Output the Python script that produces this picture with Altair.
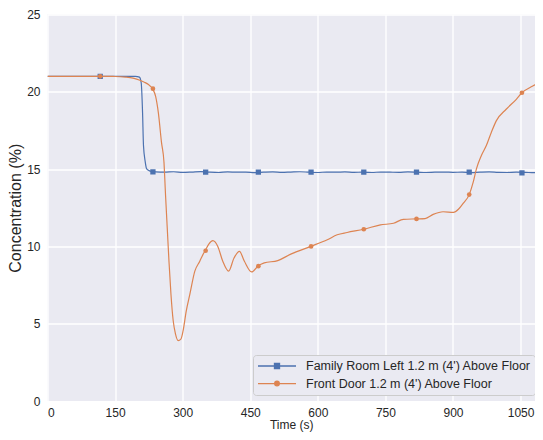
import altair as alt
import pandas as pd

series_names = ["Family Room Left 1.2 m (4') Above Floor", "Front Door 1.2 m (4') Above Floor"]
series_colors = ["#4C72B0", "#DD8452"]

blue_t = [0, 100, 150, 195, 204, 208, 211, 213, 217, 219.5, 224, 230,
          240, 260, 280, 300, 320, 340, 360, 380, 400, 420, 440, 460, 480, 500,
          520, 540, 560, 580, 600, 620, 640, 660, 680, 700, 720, 740, 760, 780,
          800, 820, 840, 860, 880, 900, 920, 940, 960, 980, 1000, 1020, 1040,
          1060, 1080, 1091]
blue_v = [21.0, 21.0, 21.0, 21.0, 20.95, 20.58, 18.65, 16.54, 15.45, 15.06, 14.92, 14.85,
          14.82, 14.80, 14.83, 14.79, 14.81, 14.84, 14.80, 14.78, 14.82, 14.80,
          14.81, 14.77, 14.80, 14.82, 14.79, 14.81, 14.83, 14.80, 14.78, 14.81,
          14.80, 14.82, 14.79, 14.80, 14.78, 14.81, 14.80, 14.79, 14.82, 14.80,
          14.78, 14.80, 14.81, 14.79, 14.80, 14.77, 14.80, 14.82, 14.79, 14.78,
          14.80, 14.79, 14.77, 14.79]

orange_t = [0, 110, 150, 173, 190, 205, 215, 224, 233, 240,
            246, 253, 258.5, 262, 265.8, 269.6, 274, 279, 284, 290,
            296, 301, 308, 316, 327, 338, 345, 350, 358, 367,
            378, 389, 402, 414, 426, 437, 453, 467, 481, 511,
            540, 584, 621, 643, 665, 702, 739, 768, 790, 818,
            838, 856, 878, 901, 912, 923, 936, 945, 952, 963,
            974, 985, 996, 1018, 1040, 1053, 1077, 1091]
orange_v = [21.0, 21.0, 20.99, 20.95, 20.88, 20.75, 20.62, 20.47, 20.2, 19.7,
            18.65, 16.73, 15.45, 13.31, 11.17, 9.04, 6.91, 5.19, 4.34, 3.91,
            4.0, 4.55, 5.83, 6.91, 8.4, 9.04, 9.47, 9.72, 10.15, 10.37,
            10.0, 9.04, 8.4, 9.25, 9.68, 9.04, 8.35, 8.72, 8.93, 9.08,
            9.5, 10.0, 10.43, 10.75, 10.9, 11.11, 11.39, 11.5, 11.75, 11.78,
            11.8, 12.07, 12.24, 12.2, 12.4, 12.8, 13.35, 14.17, 15.02, 15.88,
            16.52, 17.37, 18.12, 18.87, 19.5, 19.94, 20.37, 20.62]

marker_t = [117, 234, 351, 468, 585, 702, 819, 936, 1053]
blue_marker_v = [21.0, 14.82, 14.80, 14.80, 14.80, 14.80, 14.80, 14.80, 14.76]
orange_marker_v = [21.0, 20.2, 9.72, 8.72, 10.0, 11.11, 11.78, 13.35, 19.94]

x_ticks = [0, 150, 300, 450, 600, 750, 900, 1050]
y_ticks = [0, 5, 10, 15, 20, 25]

legend_paths = [
    "M-1,0L1,0M-0.13,-0.13L0.13,-0.13L0.13,0.13L-0.13,0.13Z",
    "M-1,0L1,0M0.12,0A0.12,0.12,0,1,1,-0.12,0A0.12,0.12,0,1,1,0.12,0Z",
]

FONT = "Liberation Sans"
TXT = "#262626"

blue_df = pd.DataFrame({"t": blue_t, "v": blue_v})
orange_df = pd.DataFrame({"t": orange_t, "v": orange_v})
blue_m = pd.DataFrame({"t": marker_t, "v": blue_marker_v})
orange_m = pd.DataFrame({"t": marker_t, "v": orange_marker_v})
legend_df = pd.DataFrame({"t": [marker_t[0], marker_t[0]],
                          "v": [blue_marker_v[0], orange_marker_v[0]],
                          "series": series_names})

x_enc = alt.X("t:Q", scale=alt.Scale(domain=[0, 1082], nice=False, zero=False),
              axis=alt.Axis(values=x_ticks, format="d", title="Time (s)", titleFontSize=12,
                            labelPadding=6, titlePadding=1.5))
y_enc = alt.Y("v:Q", scale=alt.Scale(domain=[0, 25], nice=False),
              axis=alt.Axis(values=y_ticks, title="Concentration (%)", titleFontSize=16,
                            labelPadding=7.5, titlePadding=3))

blue_line = alt.Chart(blue_df).mark_line(color=series_colors[0], strokeWidth=1.2,
                                         interpolate="monotone", clip=True).encode(x=x_enc, y=y_enc)
blue_pts = alt.Chart(blue_m).mark_square(color=series_colors[0], size=28, opacity=1, clip=True).encode(x="t:Q", y="v:Q")
orange_line = alt.Chart(orange_df).mark_line(color=series_colors[1], strokeWidth=1.2,
                                             interpolate="monotone", clip=True).encode(x="t:Q", y="v:Q")
orange_pts = alt.Chart(orange_m).mark_circle(color=series_colors[1], size=22, opacity=1, clip=True).encode(x="t:Q", y="v:Q")

scale_c = alt.Scale(domain=series_names, range=series_colors)
legend_layer = alt.Chart(legend_df).mark_point(filled=True, opacity=0).encode(
    x="t:Q", y="v:Q",
    color=alt.Color("series:N", scale=scale_c, title=None),
    stroke=alt.Stroke("series:N", scale=scale_c, title=None),
    shape=alt.Shape("series:N", scale=alt.Scale(domain=series_names, range=legend_paths), title=None),
)

chart = alt.layer(blue_line, blue_pts, orange_line, orange_pts, legend_layer).properties(
    width=487.5, height=386.5,
    autosize=alt.AutoSizeParams(type="none"),
    padding={"left": 39.5, "top": 6.5, "right": 0, "bottom": 31},
    background="white",
).configure_view(
    fill="#EAEAF2", strokeWidth=0
).configure_axis(
    domain=False, ticks=False, tickSize=0, grid=True, gridColor="white", gridWidth=1.3,
    labelFont=FONT, labelFontSize=12, labelColor=TXT,
    titleFont=FONT, titleColor=TXT, titleFontWeight="normal",
).configure_legend(
    orient="none", legendX=205.5, legendY=340.5, padding=4,
    fillColor="#EAEAF2", strokeColor="#CCCCCC", cornerRadius=3,
    labelFont=FONT, labelFontSize=12.5, labelColor=TXT, labelLimit=400,
    symbolSize=1444, symbolStrokeWidth=1.4, symbolOpacity=1,
    clipHeight=14, rowPadding=3.6, labelOffset=9,
)

chart.save("out.html", embed_options={"renderer": "svg", "actions": False})
